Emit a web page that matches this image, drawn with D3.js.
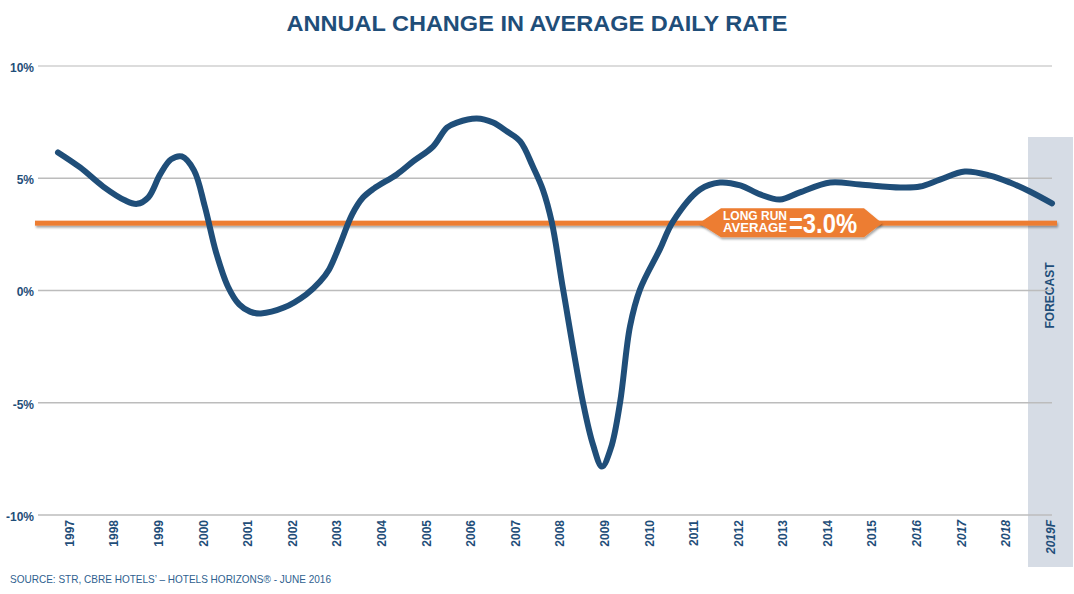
<!DOCTYPE html>
<html><head><meta charset="utf-8">
<script src="https://cdn.jsdelivr.net/npm/d3@7"></script>
<style>
html,body{margin:0;padding:0;background:#fff;}
svg{display:block;font-family:"Liberation Sans",Arial,sans-serif;}
</style></head>
<body><svg id="c" width="1074" height="594"></svg>
<script>
// tick labels (categories)
const categories = ["1997","1998","1999","2000","2001","2002","2003","2004","2005","2006","2007","2008","2009","2010","2011","2012","2013","2014","2015","2016","2017","2018","2019F"];
const italicLabels = ["2016","2017","2018","2019F"];
const yTicks = [-10,-5,0,5,10];
// traced curve of ADR annual change (fractional year, %)
const trendYear = [1997.00,1997.49,1998.00,1998.48,1998.75,1999.00,1999.26,1999.50,1999.74,2000.01,2000.25,2000.50,2000.76,2001.01,2001.25,2001.49,2002.00,2002.49,2002.80,2003.00,2003.24,2003.51,2003.75,2003.99,2004.50,2004.86,2005.30,2005.61,2005.83,2006.27,2006.63,2006.94,2007.23,2007.51,2007.73,2007.93,2008.18,2008.62,2008.84,2009.04,2009.24,2009.44,2009.66,2009.88,2010.32,2010.61,2011.21,2011.65,2012.10,2012.54,2012.98,2013.42,2014.09,2014.75,2015.64,2016.08,2016.52,2017.07,2017.63,2018.07,2018.51,2019.00];
const trendValue = [6.15,5.48,4.63,4.02,3.86,4.15,5.17,5.84,5.97,5.35,3.74,1.69,0.18,-0.62,-0.94,-1.02,-0.76,-0.18,0.40,0.94,2.05,3.39,4.14,4.54,5.17,5.75,6.41,7.26,7.48,7.66,7.48,7.08,6.64,5.52,4.50,3.03,0.04,-4.99,-6.86,-7.84,-7.00,-4.99,-1.60,0.04,1.83,3.07,4.50,4.81,4.68,4.28,4.05,4.37,4.81,4.72,4.59,4.63,4.94,5.30,5.12,4.81,4.41,3.88];
const longRunAverage = 3.0;

const BLUE = "#1F4E79", ORANGE = "#ED7D31";
const svg = d3.select("#c");
const defs = svg.append("defs");
const f = defs.append("filter").attr("id","sh").attr("filterUnits","userSpaceOnUse")
  .attr("x",0).attr("y",0).attr("width",1074).attr("height",594);
f.append("feDropShadow").attr("dx",1).attr("dy",2).attr("stdDeviation",1.2).attr("flood-color","#000").attr("flood-opacity",0.35);

const x = d3.scaleLinear().domain([1997,2019]).range([58,1052]);
const xLab = d3.scalePoint().domain(categories).range([69,1050]);
const y = d3.scaleLinear().domain([-10,10]).range([515,66]);

// forecast band
svg.append("rect").attr("x",1028).attr("y",137).attr("width",45).attr("height",430).attr("fill","#D6DCE5");
svg.append("text").attr("transform",`translate(1054,${y(0)+5}) rotate(-90)`).attr("text-anchor","middle")
  .attr("font-size",12).attr("font-weight","bold").attr("fill",BLUE).text("FORECAST");

// gridlines
svg.append("g").selectAll("line").data(yTicks).join("line")
  .attr("x1",38).attr("x2",1052).attr("y1",d=>y(d)).attr("y2",d=>y(d))
  .attr("stroke",d=>d===10?"#d0d0d0":"#bcbcbc").attr("stroke-width",1.5);

// y axis labels
const ya = svg.append("g").attr("transform","translate(34,0)")
  .call(d3.axisLeft(y).tickValues(yTicks).tickSize(0).tickPadding(0).tickFormat(d=>d+"%"));
ya.select(".domain").remove();
ya.selectAll("text").attr("font-size",12).attr("font-weight","bold").attr("fill",BLUE)
  .attr("font-family","Liberation Sans, Arial, sans-serif").attr("dy","0.45em");

// x axis labels
const xa = svg.append("g").attr("transform","translate(0,520)")
  .call(d3.axisBottom(xLab).tickSize(0));
xa.select(".domain").remove();
xa.selectAll("text").attr("transform","rotate(-90)").attr("x",0).attr("y",0).attr("dy","0.36em")
  .attr("text-anchor","end").attr("font-size",12).attr("font-weight","bold").attr("fill",BLUE)
  .attr("font-family","Liberation Sans, Arial, sans-serif")
  .attr("font-style",d=>italicLabels.includes(d)?"italic":"normal");

// long run average line
svg.append("rect").attr("x",35).attr("width",1022).attr("y",y(longRunAverage)-2.5).attr("height",5)
  .attr("fill",ORANGE).attr("filter","url(#sh)");

// trend line
const pts = trendYear.map((t,i)=>[t,trendValue[i]]);
svg.append("path").datum(pts)
  .attr("d",d3.line().x(d=>x(d[0])).y(d=>y(d[1])).curve(d3.curveCatmullRom.alpha(0.5)))
  .attr("fill","none").attr("stroke",BLUE).attr("stroke-width",6).attr("stroke-linecap","round").attr("stroke-linejoin","round");

// label badge
const cy = y(longRunAverage);
const hex = [[699,cy],[721,cy-15],[864,cy-15],[882,cy],[864,cy+14],[721,cy+14]];
svg.append("path").attr("d","M"+hex.map(p=>p.join(",")).join("L")+"Z").attr("fill",ORANGE).attr("filter","url(#sh)");
const lt = svg.append("g").attr("fill","#fff").attr("font-weight","bold").attr("font-family","Liberation Sans, Arial, sans-serif");
lt.append("text").attr("x",755).attr("y",cy-3).attr("text-anchor","middle").attr("font-size",12.5).attr("textLength",64).attr("lengthAdjust","spacingAndGlyphs").text("LONG RUN");
lt.append("text").attr("x",755).attr("y",cy+9).attr("text-anchor","middle").attr("font-size",12.5).attr("textLength",64).attr("lengthAdjust","spacingAndGlyphs").text("AVERAGE");
lt.append("text").attr("x",789).attr("y",cy+10).attr("font-size",27).attr("textLength",68).attr("lengthAdjust","spacingAndGlyphs").text("=3.0%");

// title
svg.append("text").attr("x",537).attr("y",31).attr("text-anchor","middle").attr("font-size",22).attr("font-weight","bold")
  .attr("fill",BLUE).attr("textLength",501).attr("lengthAdjust","spacingAndGlyphs").text("ANNUAL CHANGE IN AVERAGE DAILY RATE");

// source
svg.append("text").attr("x",10).attr("y",583).attr("font-size",10.5).attr("fill","#2F5F8F")
  .attr("textLength",321).attr("lengthAdjust","spacingAndGlyphs").text("SOURCE: STR, CBRE HOTELS’ – HOTELS HORIZONS® - JUNE 2016");
</script></body></html>
